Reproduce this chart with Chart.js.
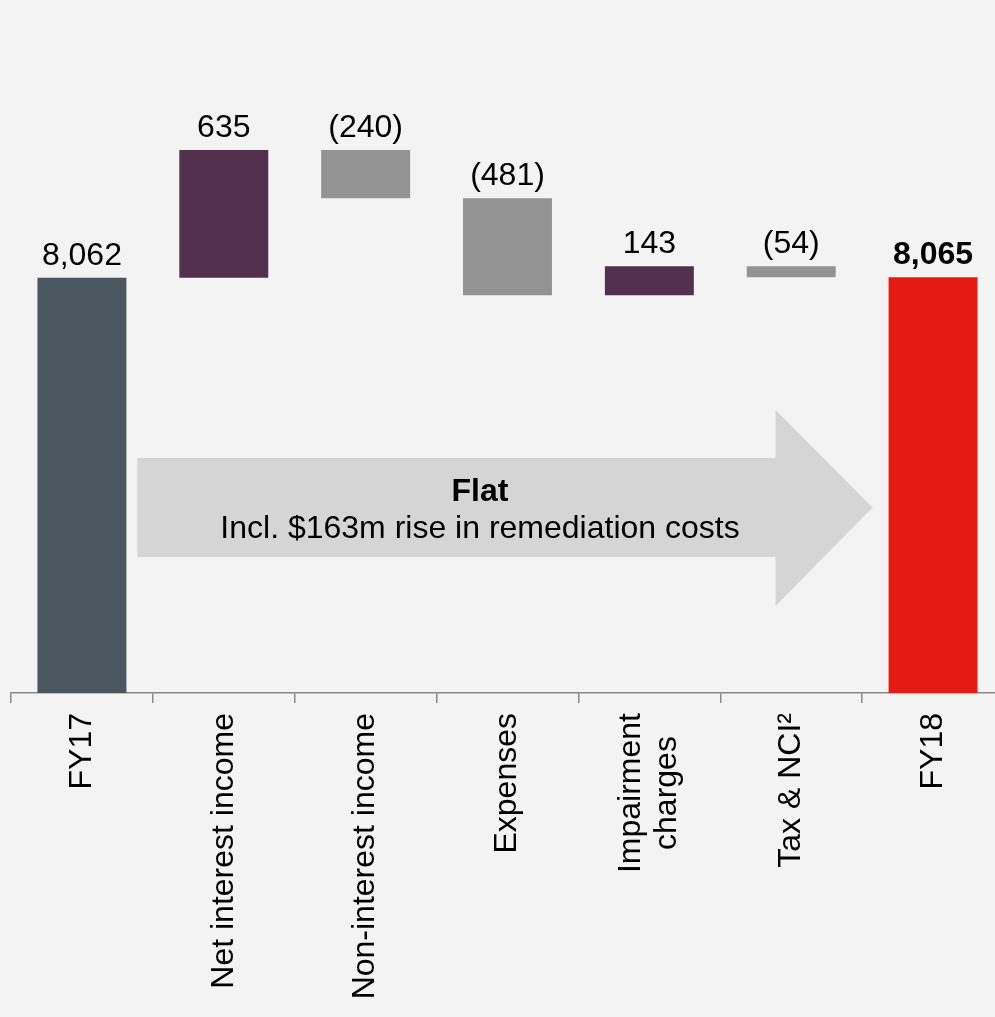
<!DOCTYPE html>
<html>
<head>
<meta charset="utf-8">
<script src="https://cdn.jsdelivr.net/npm/chart.js@4"></script>
<style>
  html, body { margin: 0; padding: 0; background: #f3f3f3; overflow: hidden; }
  #wrap { width: 995px; height: 1017px; overflow: hidden; }
  canvas { display: block; }
</style>
</head>
<body>
<div id="wrap"><canvas id="chart" width="1004" height="1017"></canvas></div>
<script>
// Données du graphique (cascade)
const categories = ['FY17', 'Net interest income', 'Non-interest income', 'Expenses', ['Impairment', 'charges'], 'Tax & NCI²', 'FY18'];
const values = [8062, 635, -240, -481, 143, -54, 8065];
const kinds = ['total', 'delta', 'delta', 'delta', 'delta', 'delta', 'total'];
const axisMin = 6000;
const axisMax = 9000;

const FONT = '"Liberation Sans", Arial, sans-serif';

// Construire les barres flottantes
function buildBars() {
    let running = 0;
    return values.map((v, i) => {
        if (kinds[i] === 'total') {
            running = v;
            return [0, v];
        }
        const start = running;
        running += v;
        return [Math.min(start, running), Math.max(start, running)];
    });
}

function barColor(i) {
    if (i === 0) return '#4a5660';
    if (i === values.length - 1) return '#e41a13';
    return values[i] >= 0 ? '#53314e' : '#939393';
}

function formatValue(v, kind) {
    const s = new Intl.NumberFormat('en-US').format(Math.abs(v));
    if (kind === 'total') return s;
    return v < 0 ? '(' + s + ')' : s;
}

// Flèche "Flat" derrière les barres
const arrowPlugin = {
    id: 'arrow',
    beforeDatasetsDraw(chart) {
        const ctx = chart.ctx;
        const y = chart.scales.y;
        const meta = chart.getDatasetMeta(0);
        const first = meta.data[0], last = meta.data[meta.data.length - 1];
        const left = first.x + first.width / 2 + 11;
        const tip = last.x - last.width / 2 - 16;
        const headStart = tip - 97;
        const bodyTop = y.getPixelForValue(7167);
        const bodyBot = y.getPixelForValue(6676);
        const headTop = y.getPixelForValue(7406);
        const headBot = y.getPixelForValue(6432);
        const mid = (bodyTop + bodyBot) / 2;
        ctx.save();
        ctx.fillStyle = '#d5d5d5';
        ctx.beginPath();
        ctx.moveTo(left, bodyTop);
        ctx.lineTo(headStart, bodyTop);
        ctx.lineTo(headStart, headTop);
        ctx.lineTo(tip, mid);
        ctx.lineTo(headStart, headBot);
        ctx.lineTo(headStart, bodyBot);
        ctx.lineTo(left, bodyBot);
        ctx.closePath();
        ctx.fill();
        const tx = (left + tip) / 2 - 25;
        ctx.fillStyle = '#000';
        ctx.textAlign = 'center';
        ctx.textBaseline = 'alphabetic';
        ctx.font = 'bold 32px ' + FONT;
        ctx.fillText('Flat', tx, mid - 6);
        ctx.font = '32px ' + FONT;
        ctx.fillText('Incl. $163m rise in remediation costs', tx, mid + 31);
        ctx.restore();
    }
};

// Étiquettes de valeurs au-dessus des barres + libellés verticaux de l'axe
const labelPlugin = {
    id: 'valueLabels',
    afterDatasetsDraw(chart) {
        const ctx = chart.ctx;
        const meta = chart.getDatasetMeta(0);
        ctx.save();
        ctx.fillStyle = '#000';
        ctx.textAlign = 'center';
        ctx.textBaseline = 'alphabetic';
        meta.data.forEach((bar, i) => {
            const bold = i === values.length - 1;
            ctx.font = (bold ? 'bold ' : '') + '32px ' + FONT;
            const top = Math.min(bar.y, bar.base);
            ctx.fillText(formatValue(values[i], kinds[i]), bar.x, top - 13);
        });
        ctx.restore();
    },
    afterDraw(chart) {
        const ctx = chart.ctx;
        const x = chart.scales.x;
        const lineH = 36;
        const startY = x.top + 20;
        ctx.save();
        ctx.fillStyle = '#000';
        ctx.font = '32px ' + FONT;
        ctx.textAlign = 'right';
        ctx.textBaseline = 'middle';
        categories.forEach((label, i) => {
            const lines = Array.isArray(label) ? label : [label];
            const maxW = Math.max(...lines.map(l => ctx.measureText(l).width));
            const cx = x.getPixelForValue(i);
            lines.forEach((line, j) => {
                const w = ctx.measureText(line).width;
                const px = cx + (j - (lines.length - 1) / 2) * lineH;
                const py = startY + (maxW - w) / 2;
                ctx.save();
                ctx.translate(px, py);
                ctx.rotate(-Math.PI / 2);
                ctx.fillText(line, 0, 0);
                ctx.restore();
            });
        });
        ctx.restore();
    }
};

new Chart(document.getElementById('chart'), {
    type: 'bar',
    data: {
        labels: categories,
        datasets: [{
            data: buildBars(),
            backgroundColor: values.map((v, i) => barColor(i)),
            borderWidth: 0,
            barPercentage: 0.627,
            categoryPercentage: 1
        }]
    },
    options: {
        responsive: false,
        animation: false,
        devicePixelRatio: 1,
        layout: { padding: { left: 11, top: 89, right: 0, bottom: 0 } },
        plugins: {
            legend: { display: false },
            tooltip: { enabled: false }
        },
        scales: {
            x: {
                grid: {
                    offset: true,
                    drawOnChartArea: false,
                    drawTicks: true,
                    tickLength: 10,
                    color: '#8a8a8a',
                    lineWidth: 1.5
                },
                border: { color: '#8a8a8a', width: 1.5 },
                ticks: { display: false },
                afterFit(scale) { scale.height = 324; }
            },
            y: {
                display: false,
                min: axisMin,
                max: axisMax
            }
        }
    },
    plugins: [arrowPlugin, labelPlugin]
});
</script>
</body>
</html>
